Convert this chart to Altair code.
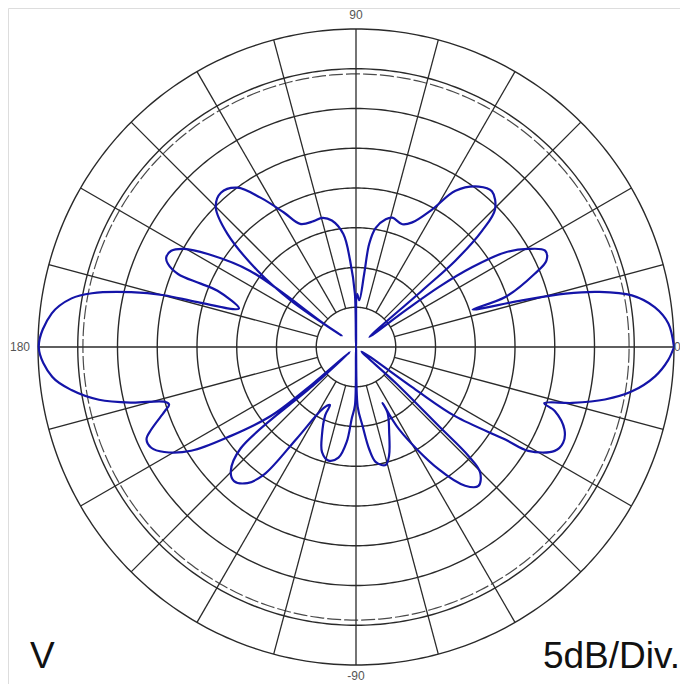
import altair as alt
import pandas as pd

# ---- pattern data: angle (deg, CCW from 0 at right) and level (dB, 0 dB at outer ring, -40 dB at centre)
angles = [0.0, 4.3, 7.6, 10.6, 12.8, 14.3, 15.7, 17.8,
          18.5, 22.3, 24.4, 27.0, 29.7, 32.4, 34.5, 35.9, 36.5, 37.0,
          40.5, 41.0, 42.7, 44.7, 48.9, 52.6, 57.5, 61.0, 65.7, 69.3, 74.3, 76.9, 80.6, 82.7, 83.6, 86.0, 88.8, 90.0,
          91.2, 93.9, 96.4, 100.8, 104.7, 108.6, 114.4, 118.2, 122.6, 126.7, 131.2, 135.1, 138.7, 142.2, 144.5, 142.0,
          144.0, 144.3, 147.9, 150.3, 152.5, 154.7, 156.1, 157.7, 157.8, 157.9, 161.8,
          164.2, 164.9, 166.3, 168.5, 170.3, 173.7, 180.0, 185.6, 188.6, 191.6, 193.9, 195.9, 197.1,
          198.6, 202.0, 203.8, 206.2, 208.7, 212.2, 215.4, 219.0, 220.4, 219.5,
          222.0, 221.3, 224.8, 227.7, 231.4, 234.2, 237.1, 242.0, 245.9,
          245.7, 248.9, 252.1, 256.4, 261.0, 264.4, 266.6, 269.0, 270.0,
          271.6, 274.8, 277.4, 279.8, 284.1, 286.9, 291.1, 295.6, 295.4,
          297.6, 304.1, 308.2, 311.4, 314.7, 315.9, 316.3, 317.8, 321.0,
          324.4, 325.1, 328.2, 328.9, 332.4, 335.2, 338.4, 342.1, 343.4,
          345.5, 348.1, 350.8, 354.4, 357.6, 360.0]
levels = [0.0, -0.6, -2.1, -4.7, -8.7, -12.8, -18.3, -24.6,
          -20.2, -15.7, -13.7, -13.3, -15.1, -17.8, -22.3, -27.1, -32.2, -37.9,
          -29.0, -23.4, -18.4, -15.4, -14.0, -14.6, -16.7, -20.2, -22.8, -23.5, -23.1, -23.5, -24.8, -26.9, -30.7, -34.1, -33.3, -40.0,
          -33.3, -29.1, -25.7, -23.8, -23.2, -23.3, -23.0, -20.8, -17.7, -15.0, -14.2, -15.1, -18.5, -24.3, -29.9, -37.7,
          -35.0, -23.6, -18.0, -15.1, -13.8, -13.6, -14.1, -15.8, -18.9, -21.2, -24.5,
          -19.3, -15.0, -10.9, -6.1, -3.7, -1.5, -0.1, -1.6, -3.8, -7.0, -10.9, -14.9, -15.4,
          -14.6, -12.2, -11.2, -11.3, -12.5, -15.5, -20.7, -26.2, -33.0, -39.0,
          -33.0, -20.7, -17.8, -17.2, -18.1, -20.2, -26.3, -31.3, -32.0,
          -30.6, -28.1, -26.1, -25.3, -25.9, -28.0, -31.0, -32.7, -40.0,
          -32.5, -30.0, -27.0, -25.3, -24.7, -25.7, -28.4, -30.8, -32.2,
          -28.3, -21.4, -17.8, -16.7, -17.8, -20.3, -25.6, -33.2, -39.1,
          -30.8, -24.8, -17.9, -14.7, -11.8, -11.3, -11.8, -13.7, -15.3,
          -11.9, -8.0, -4.9, -2.2, -0.7, 0.0]
assert len(angles) == len(levels)

ring_levels = [-35, -30, -25, -20, -15, -10, -5, 0]   # 5 dB / division
dashed_level = -5.65
spoke_angles = list(range(0, 360, 15))
axis_labels = ["0", "90", "180", "-90"]
corner_left = "V"
corner_right = "5dB/Div."

FLOOR = 40.0          # dB range shown
PX = 7.95             # pixels per dB (layout)
W, H = 672, 676
CX, CY = 348, 339     # centre offset inside the view (pixels)
xdom = [-CX / PX, (W - CX) / PX]
ydom = [-(H - CY) / PX, CY / PX]

xs = alt.Scale(domain=xdom, nice=False, zero=False)
ys = alt.Scale(domain=ydom, nice=False, zero=False)

GRID = "#2a2a2a"

ring_rows = []
for lv in ring_levels:
    for a in range(0, 361, 1):
        ring_rows.append({"ring": lv, "a": a, "level": lv})
rings_df = pd.DataFrame(ring_rows)
dash_df = pd.DataFrame({"a": list(range(0, 361, 1)), "level": dashed_level})

polar = dict(rr=f"datum.level + {FLOOR}")

rings = alt.Chart(rings_df).transform_calculate(**polar).transform_calculate(
    x="datum.rr*cos(datum.a*PI/180)", y="datum.rr*sin(datum.a*PI/180)"
).mark_line(color=GRID, strokeWidth=1.4).encode(
    x=alt.X("x:Q", scale=xs, axis=None),
    y=alt.Y("y:Q", scale=ys, axis=None),
    detail="ring:N", order="a:Q")

dashed = alt.Chart(dash_df).transform_calculate(**polar).transform_calculate(
    x="datum.rr*cos(datum.a*PI/180)", y="datum.rr*sin(datum.a*PI/180)"
).mark_line(color="#4a4a4a", strokeWidth=1.2, strokeDash=[14, 3]).encode(
    x=alt.X("x:Q", scale=xs, axis=None),
    y=alt.Y("y:Q", scale=ys, axis=None),
    order="a:Q")

spokes_df = pd.DataFrame({"a": spoke_angles,
                          "l0": [(-FLOOR if a % 90 == 0 else ring_levels[0]) for a in spoke_angles],
                          "l1": 0.0})
spokes = alt.Chart(spokes_df).transform_calculate(
    x="(datum.l0+40)*cos(datum.a*PI/180)", y="(datum.l0+40)*sin(datum.a*PI/180)",
    x2="(datum.l1+40)*cos(datum.a*PI/180)", y2="(datum.l1+40)*sin(datum.a*PI/180)"
).mark_rule(color=GRID, strokeWidth=1.3).encode(
    x=alt.X("x:Q", scale=xs, axis=None), y=alt.Y("y:Q", scale=ys, axis=None),
    x2="x2:Q", y2="y2:Q")

pat_df = pd.DataFrame({"angle": angles, "level": levels, "i": range(len(angles))})
pattern = alt.Chart(pat_df).transform_calculate(**polar).transform_calculate(
    x="datum.rr*cos(datum.angle*PI/180)", y="datum.rr*sin(datum.angle*PI/180)"
).mark_line(color="#1414a8", strokeWidth=2.2, interpolate="catmull-rom").encode(
    x=alt.X("x:Q", scale=xs, axis=None),
    y=alt.Y("y:Q", scale=ys, axis=None),
    order="i:Q")

lab_df = pd.DataFrame({
    "t": axis_labels,
    "x": [(674 - 356) / PX, 0.0, (20 - 356) / PX, 0.0],
    "y": [0.0, (347 - 15) / PX, 0.0, (347 - 676) / PX],
    "al": ["left", "center", "center", "center"]})
labs = []
for _, r in lab_df.iterrows():
    labs.append(alt.Chart(pd.DataFrame([r])).mark_text(
        font="Liberation Sans", fontSize=12, color="#555555", align=r["al"], baseline="middle"
    ).encode(x=alt.X("x:Q", scale=xs, axis=None), y=alt.Y("y:Q", scale=ys, axis=None), text="t:N"))

corner_df = pd.DataFrame({"t": [corner_left, corner_right],
                          "x": [(30 - 356) / PX, (680 - 356) / PX],
                          "y": [(347 - 668) / PX, (347 - 668) / PX],
                          "al": ["left", "right"]})
corners = []
for _, r in corner_df.iterrows():
    corners.append(alt.Chart(pd.DataFrame([r])).mark_text(
        font="Liberation Sans", fontSize=37, color="#111111", align=r["al"], baseline="alphabetic"
    ).encode(x=alt.X("x:Q", scale=xs, axis=None), y=alt.Y("y:Q", scale=ys, axis=None), text="t:N"))

chart = alt.layer(rings, dashed, spokes, pattern, *labs, *corners).properties(
    width=W, height=H, padding=0,
    autosize=alt.AutoSizeParams(type="none")
).configure_view(stroke=None).configure(background="white")

chart.save("out.html", embed_options={"renderer": "svg", "actions": False})
